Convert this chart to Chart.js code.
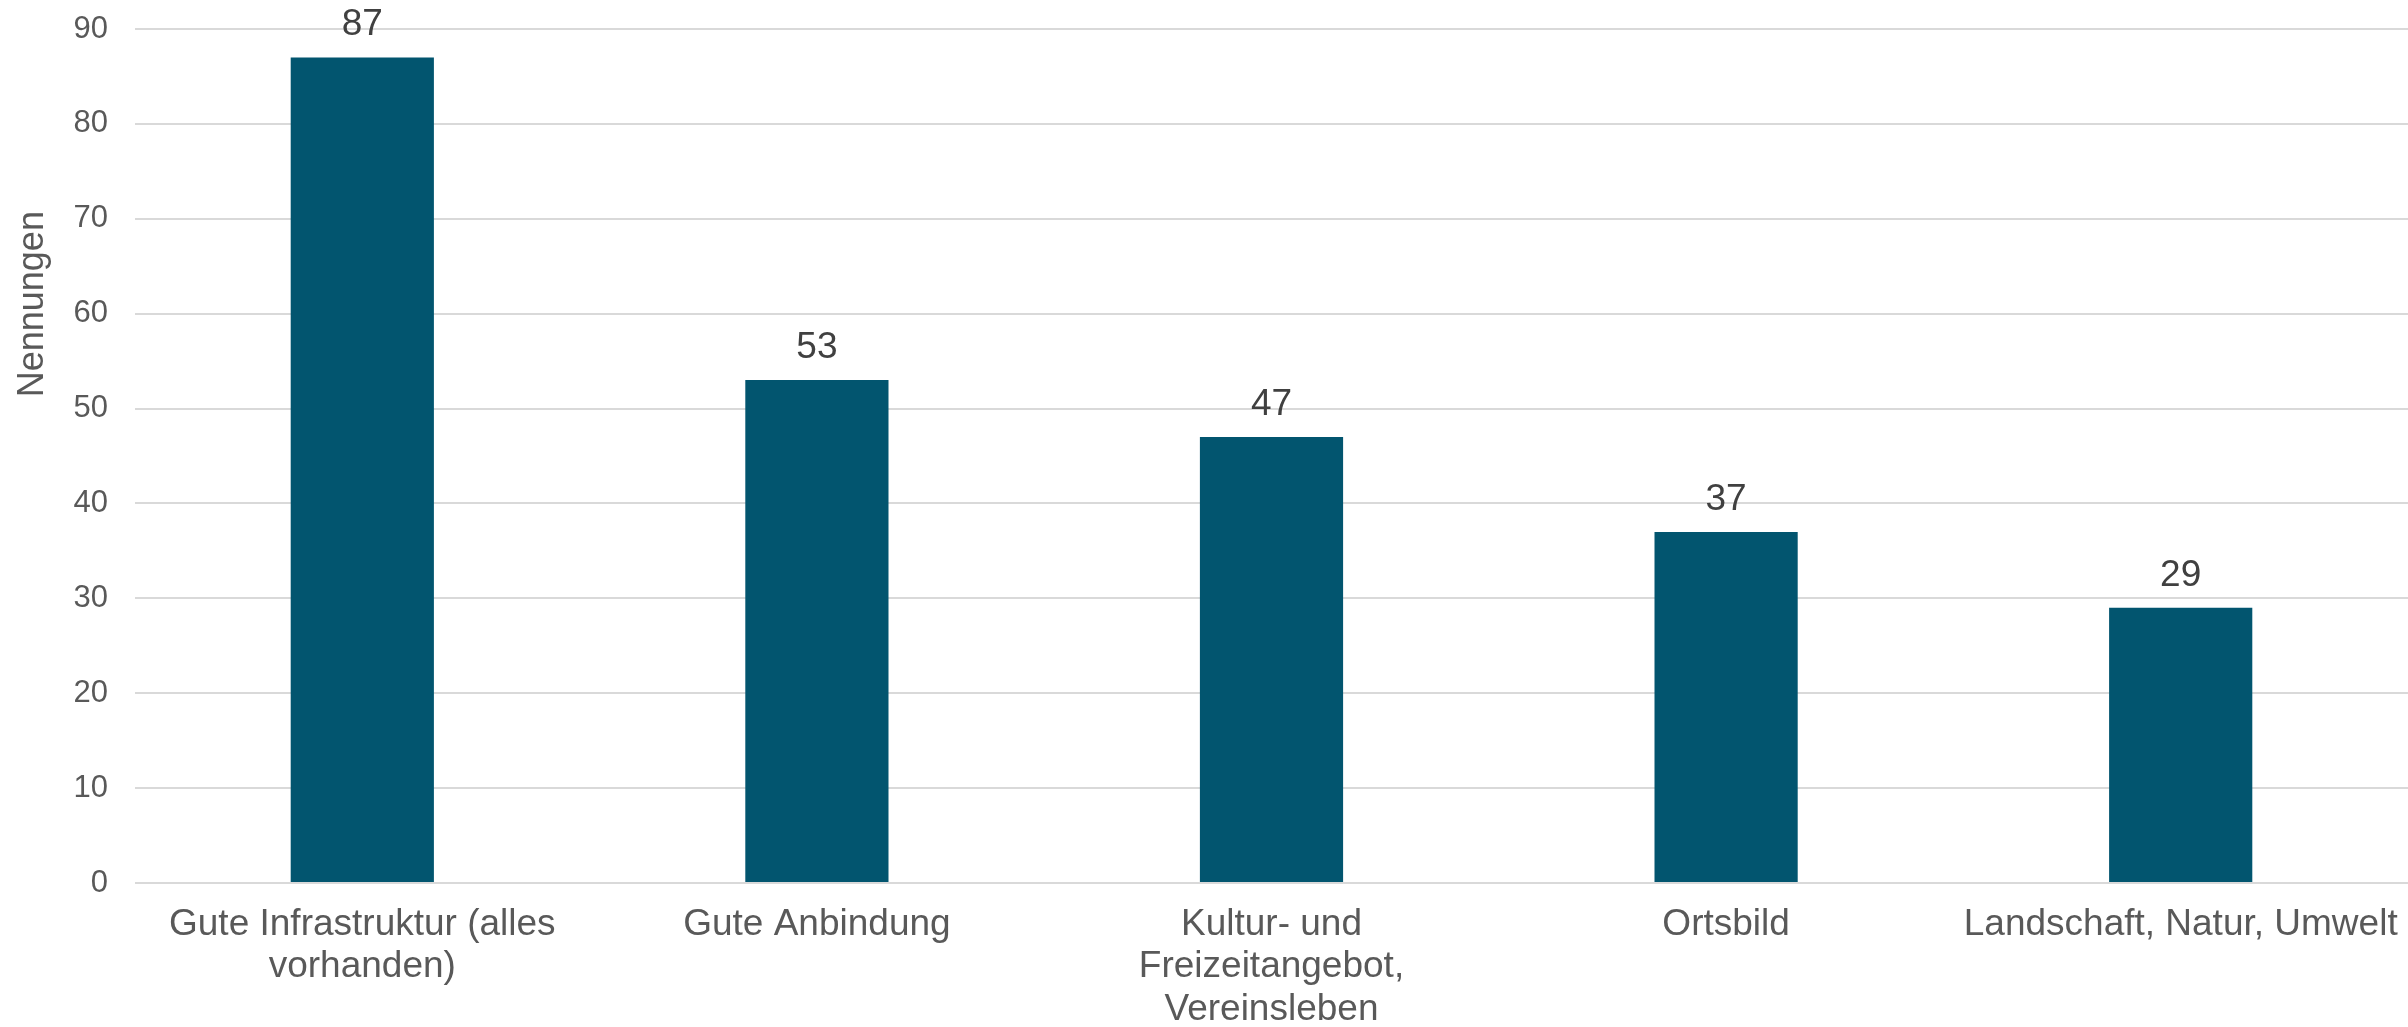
<!DOCTYPE html>
<html>
<head>
<meta charset="utf-8">
<script src="https://cdn.jsdelivr.net/npm/chart.js@4"></script>
<style>
  html, body { margin: 0; padding: 0; background: #fff; }
  #wrap { width: 2408px; height: 1027px; }
</style>
</head>
<body>
<div id="wrap"><canvas id="canvas"></canvas></div>
<script>
// data
var categories = [
  ['Gute Infrastruktur (alles', 'vorhanden)'],
  ['Gute Anbindung'],
  ['Kultur- und', 'Freizeitangebot,', 'Vereinsleben'],
  ['Ortsbild'],
  ['Landschaft, Natur, Umwelt']
];
var nennungen = [87, 53, 47, 37, 29];
var yTicks = [0, 10, 20, 30, 40, 50, 60, 70, 80, 90];
var yTitle = 'Nennungen';

var fontFam = '"Liberation Sans", Arial, sans-serif';

// value labels above bars
var valueLabels = {
  id: 'valueLabels',
  afterDatasetsDraw: function(chart) {
    var ctx = chart.ctx;
    var meta = chart.getDatasetMeta(0);
    ctx.save();
    ctx.font = '37px ' + fontFam;
    ctx.fillStyle = '#404040';
    ctx.textAlign = 'center';
    ctx.textBaseline = 'alphabetic';
    meta.data.forEach(function(bar, i) {
      ctx.fillText(String(nennungen[i]), bar.x, bar.y - 22);
    });
    ctx.restore();
  }
};

// y axis title, sits a bit above the middle like in the original
var axisTitle = {
  id: 'axisTitle',
  afterDraw: function(chart) {
    var ctx = chart.ctx;
    var y = chart.scales.y;
    ctx.save();
    ctx.translate(43, y.getPixelForValue(61));
    ctx.rotate(-Math.PI / 2);
    ctx.font = '36px ' + fontFam;
    ctx.fillStyle = '#595959';
    ctx.textAlign = 'center';
    ctx.textBaseline = 'alphabetic';
    ctx.fillText(yTitle, 0, 0);
    ctx.restore();
  }
};

var config = {
  type: 'bar',
  data: {
    labels: categories,
    datasets: [{
      label: yTitle,
      data: nennungen,
      backgroundColor: '#02556F',
      borderWidth: 0,
      barPercentage: 1,
      categoryPercentage: 0.315
    }]
  },
  options: {
    responsive: true,
    maintainAspectRatio: false,
    animation: false,
    layout: { padding: { top: 29, right: 0, bottom: 0, left: 0 } },
    plugins: {
      legend: { display: false },
      tooltip: { enabled: false }
    },
    scales: {
      x: {
        afterFit: function(s) {
          s.height = 144;
          s.paddingLeft = 0;
          s.paddingRight = 0;
        },
        grid: { display: false, drawTicks: false },
        border: { display: false },
        ticks: {
          color: '#595959',
          font: { family: fontFam, size: 37, lineHeight: 1.14 },
          padding: 21,
          maxRotation: 0,
          autoSkip: false
        }
      },
      y: {
        min: 0,
        max: 90,
        afterBuildTicks: function(s) {
          s.ticks = yTicks.map(function(v) { return { value: v }; });
        },
        afterFit: function(s) {
          s.width = 135;
          s.paddingTop = 0;
          s.paddingBottom = 0;
        },
        grid: { color: '#D9D9D9', lineWidth: 2, drawTicks: false },
        border: { display: false },
        ticks: {
          color: '#595959',
          font: { family: fontFam, size: 31 },
          padding: 27
        }
      }
    }
  },
  plugins: [valueLabels, axisTitle]
};

new Chart(document.getElementById('canvas'), config);
</script>
</body>
</html>
